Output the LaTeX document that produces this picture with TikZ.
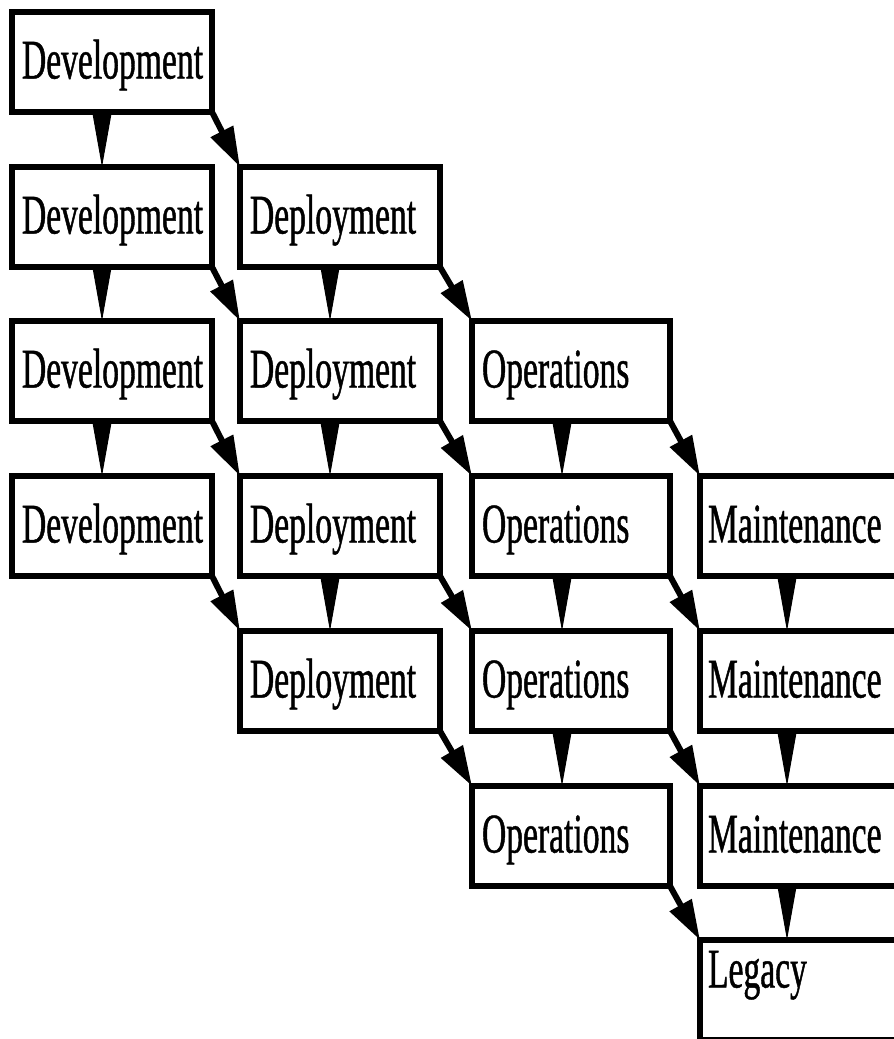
\documentclass[tikz,border=0pt]{standalone}
\usepackage{fontspec}
\newfontfamily\cond[FakeStretch=0.6,FakeBold=0.8]{Liberation Serif}
\usetikzlibrary{arrows.meta}
\begin{document}
\begin{tikzpicture}[x=1pt,y=-1pt,
  box/.style={draw, line width=5.5pt, anchor=north west, outer sep=0pt,
    minimum height=100pt, inner xsep=10pt, inner ysep=0pt, text width=180pt,
    align=left, text height=40pt, text depth=7pt,
    font=\cond\fontsize{56}{60}\selectfont},
  widebox/.style={text width=200pt},
  legacybox/.style={text depth=45pt},
  vert/.style={-{Triangle[length=54pt,width=19pt]}, line width=1pt},
  diag/.style={-{Triangle[length=40pt,width=24pt]}, line width=6pt}]
\useasboundingbox (0,0) rectangle (894,1039);
\clip (0,0) rectangle (894,1039);
% column 1
\node[box] (d1) at (12,12)  {Development};
\node[box] (d2) at (12,167) {Development};
\node[box] (d3) at (12,321) {Development};
\node[box] (d4) at (12,476) {Development};
% column 2
\node[box] (p2) at (240,167) {Deployment};
\node[box] (p3) at (240,321) {Deployment};
\node[box] (p4) at (240,476) {Deployment};
\node[box] (p5) at (240,631) {Deployment};
% column 3
\node[box, text width=178pt] (o3) at (472,321) {Operations};
\node[box, text width=178pt] (o4) at (472,476) {Operations};
\node[box, text width=178pt] (o5) at (472,631) {Operations};
\node[box, text width=178pt] (o6) at (472,786) {Operations};
% column 4
\node[box, widebox, inner xsep=8pt] (m4) at (700,476) {Maintenance};
\node[box, widebox, inner xsep=8pt] (m5) at (700,631) {Maintenance};
\node[box, widebox, inner xsep=8pt] (m6) at (700,786) {Maintenance};
\node[box, widebox, legacybox, inner xsep=8pt] (l7) at (700,940) {Legacy};
% vertical arrows
\foreach \a/\b in {d1/d2,d2/d3,d3/d4,p2/p3,p3/p4,p4/p5,o3/o4,o4/o5,o5/o6}
  \draw[vert] ([xshift=90pt]\a.south west) -- ([xshift=90pt]\b.north west);
\foreach \a/\b in {m4/m5,m5/m6,m6/l7}
  \draw[vert] ([xshift=87pt]\a.south west) -- ([xshift=87pt]\b.north west);
% diagonal arrows
\foreach \a/\b in {d1/p2,d2/p3,d3/p4,d4/p5,p2/o3,p3/o4,p4/o5,p5/o6,o3/m4,o4/m5,o5/m6,o6/l7}
  \draw[diag] (\a.south east) -- (\b.north west);
\end{tikzpicture}
\end{document}
